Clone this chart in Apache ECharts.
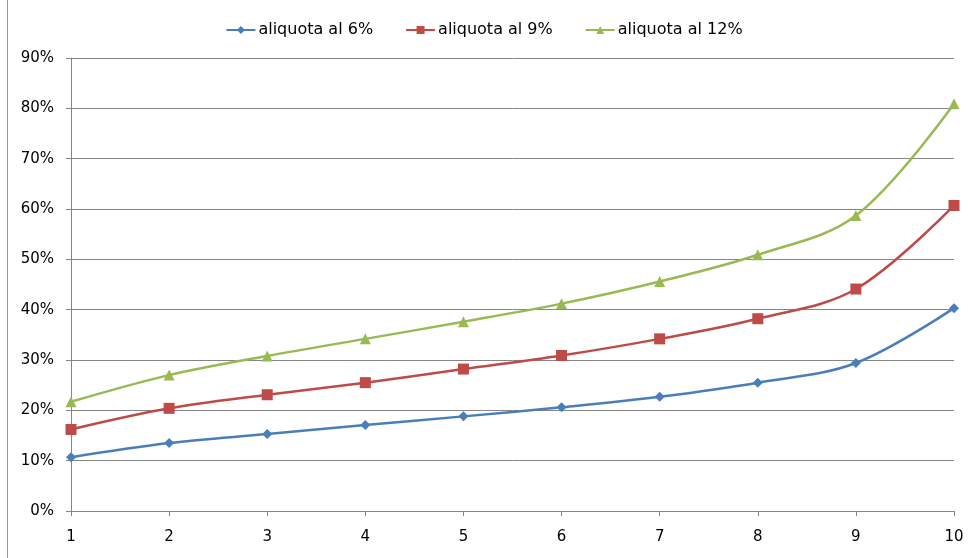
<!DOCTYPE html>
<html>
<head>
<meta charset="utf-8">
<script src="https://cdn.jsdelivr.net/npm/echarts@6/dist/echarts.min.js"></script>
<style>
  html, body { margin: 0; padding: 0; background: #fff; }
  #chart { width: 968px; height: 558px; }
</style>
</head>
<body>
<div id="chart"></div>
<script>
// Years on the x axis
const categories = ['1', '2', '3', '4', '5', '6', '7', '8', '9', '10'];

// Cumulative share (%) for each tax rate
const rate6 = [10.7, 13.5, 15.3, 17.1, 18.8, 20.6, 22.7, 25.5, 29.4, 40.3];
const rate9 = [16.2, 20.4, 23.1, 25.5, 28.2, 30.9, 34.2, 38.2, 44.1, 60.7];
const rate12 = [21.7, 27.0, 30.8, 34.2, 37.6, 41.2, 45.6, 50.9, 58.7, 80.9];

const seriesNames = ['aliquota al 6%', 'aliquota al 9%', 'aliquota al 12%'];
const colors = ['#4A7EBB', '#BE4B48', '#98B954'];

const chart = echarts.init(document.getElementById('chart'), null, { renderer: 'canvas' });

const font = 'DejaVu Sans, Verdana, sans-serif';

function lineSeries(name, data, color, symbol, size) {
  return {
    name: name,
    type: 'line',
    data: data,
    smooth: 0.35,
    symbol: symbol,
    symbolSize: size,
    showSymbol: true,
    lineStyle: { color: color, width: 2.5 },
    itemStyle: { color: color },
    emphasis: { disabled: true },
    z: 3
  };
}

chart.setOption({
  animation: false,
  backgroundColor: '#fff',
  color: colors,
  legend: {
    top: 17,
    left: 'center',
    itemGap: 32,
    itemWidth: 29,
    itemHeight: 10,
    textStyle: { fontFamily: font, fontSize: 16, color: '#000', padding: [0, 0, 0, -2] },
    data: seriesNames
  },
  grid: { left: 71, right: 14, top: 58, bottom: 47, containLabel: false },
  xAxis: {
    type: 'category',
    data: categories,
    boundaryGap: false,
    axisLine: { lineStyle: { color: '#868686', width: 1 } },
    axisTick: { show: true, length: 5, alignWithLabel: true, lineStyle: { color: '#868686' } },
    axisLabel: { fontFamily: font, fontSize: 15, color: '#000', margin: 19 },
    splitLine: { show: false }
  },
  yAxis: {
    type: 'value',
    min: 0,
    max: 90,
    interval: 10,
    axisLine: { show: true, lineStyle: { color: '#868686', width: 1 } },
    axisTick: { show: true, length: 5, lineStyle: { color: '#868686' } },
    axisLabel: {
      fontFamily: font, fontSize: 15, color: '#000', margin: 17,
      formatter: v => v + '%'
    },
    splitLine: { show: true, lineStyle: { color: '#868686', width: 1 } }
  },
  graphic: [{
    type: 'line',
    shape: { x1: 7.5, y1: 0, x2: 7.5, y2: 558 },
    style: { stroke: '#9a9a9a', lineWidth: 1 },
    silent: true
  }],
  series: [
    lineSeries(seriesNames[0], rate6, colors[0], 'diamond', 10),
    lineSeries(seriesNames[1], rate9, colors[1], 'rect', 11),
    lineSeries(seriesNames[2], rate12, colors[2], 'triangle', 11)
  ]
});
</script>
</body>
</html>
